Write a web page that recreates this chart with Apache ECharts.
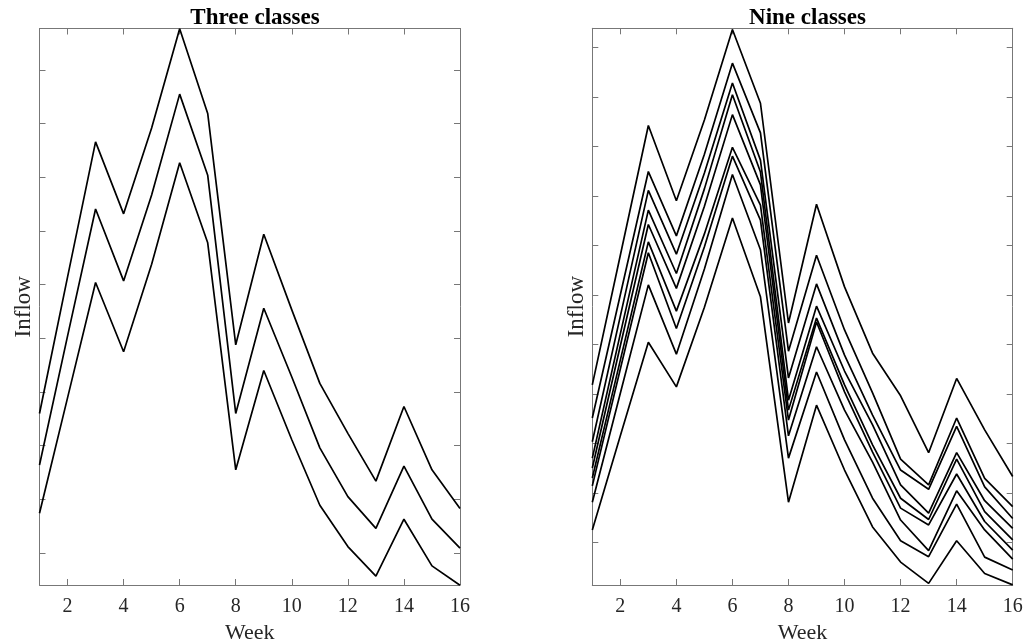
<!DOCTYPE html>
<html>
<head>
<meta charset="utf-8">
<script src="https://cdn.jsdelivr.net/npm/echarts@6/dist/echarts.min.js"></script>
<style>
html,body{margin:0;padding:0;background:#fff;}
#chart{width:1025px;height:644px;}
</style>
</head>
<body>
<div id="chart"></div>
<script>
// Weeks (x) and tick positions
const weeks = [1,2,3,4,5,6,7,8,9,10,11,12,13,14,15,16];
const xTickValues = [2,4,6,8,10,12,14,16];
const leftYTicks = [1,2,3,4,5,6,7,8,9,10];
const rightYTicks = [1,2,3,4,5,6,7,8,9,10,11];

// Three classes (inflow, in y-tick units; axis has no numeric labels)
const threeHigh = [3.60,6.14,8.66,7.32,8.92,10.77,9.19,4.88,6.94,5.53,4.16,3.23,2.34,3.73,2.55,1.83];
const threeMid  = [2.64,5.04,7.41,6.07,7.67,9.55,8.04,3.60,5.56,4.28,2.96,2.05,1.46,2.62,1.63,1.09];
const threeLow  = [1.74,3.89,6.04,4.75,6.38,8.27,6.78,2.55,4.40,3.11,1.89,1.12,0.57,1.63,0.76,0.40];

// Nine classes
const nine1 = [4.18,6.80,9.42,7.90,9.53,11.36,9.87,5.43,7.83,6.16,4.82,3.96,2.81,4.31,3.27,2.33];
const nine2 = [3.51,6.00,8.49,7.19,8.84,10.68,9.27,4.86,6.80,5.29,4.02,2.68,2.16,3.51,2.29,1.72];
const nine3 = [3.03,5.57,8.11,6.82,8.46,10.28,8.72,4.32,6.22,4.78,3.57,2.46,2.07,3.34,2.12,1.48];
const nine4 = [2.70,5.21,7.71,6.43,8.14,10.04,8.48,3.87,5.77,4.46,3.37,2.16,1.59,2.81,1.84,1.28];
const nine5 = [2.50,4.97,7.42,6.13,7.79,9.64,8.22,3.67,5.53,4.18,2.97,1.89,1.46,2.68,1.62,1.05];
const nine6 = [2.30,4.68,7.07,5.67,7.23,8.98,7.81,3.47,5.45,4.04,2.82,1.69,1.35,2.38,1.42,0.84];
const nine7 = [2.14,4.50,6.85,5.32,6.97,8.80,7.51,3.15,4.95,3.67,2.62,1.45,0.83,2.04,1.25,0.66];
const nine8 = [1.81,4.01,6.20,4.80,6.52,8.43,6.91,2.70,4.44,3.07,1.89,1.03,0.71,1.77,0.70,0.44];
const nine9 = [1.25,3.15,5.04,4.14,5.75,7.55,5.96,1.81,3.77,2.46,1.31,0.60,0.17,1.03,0.37,0.14];

const threeSeries = [threeHigh, threeMid, threeLow];
const nineSeries = [nine1,nine2,nine3,nine4,nine5,nine6,nine7,nine8,nine9];

const FONT = "'Liberation Serif','Times New Roman',serif";
const AXIS_COLOR = '#777777';
const LABEL_COLOR = '#262626';

function pairs(vals){ return weeks.map((w,i)=>[w, vals[i]]); }

function xAxes(gridIndex){
  const base = {
    type:'value', gridIndex, min:1, max:16,
    axisLine:{show:true, onZero:false, lineStyle:{color:AXIS_COLOR, width:1}},
    axisTick:{show:true, inside:true, length:6, customValues:xTickValues, lineStyle:{color:AXIS_COLOR}},
    splitLine:{show:false}
  };
  return [
    Object.assign({}, base, {
      position:'bottom',
      axisLabel:{show:true, customValues:xTickValues, margin:12, fontFamily:FONT, fontSize:20, color:LABEL_COLOR},
      name:'Week', nameLocation:'middle', nameGap:37,
      nameTextStyle:{fontFamily:FONT, fontSize:22, color:LABEL_COLOR}
    }),
    Object.assign({}, base, {position:'top', axisLabel:{show:false}})
  ];
}

function yAxes(gridIndex, min, max, ticks){
  const base = {
    type:'value', gridIndex, min, max,
    axisLine:{show:true, onZero:false, lineStyle:{color:AXIS_COLOR, width:1}},
    axisTick:{show:true, inside:true, length:6, customValues:ticks, lineStyle:{color:AXIS_COLOR}},
    axisLabel:{show:false},
    splitLine:{show:false}
  };
  return [
    Object.assign({}, base, {
      position:'left',
      name:'Inflow', nameLocation:'middle', nameGap:4,
      nameTextStyle:{fontFamily:FONT, fontSize:23, color:LABEL_COLOR}
    }),
    Object.assign({}, base, {position:'right'})
  ];
}

const series = [];
threeSeries.forEach(s => series.push({
  type:'line', xAxisIndex:0, yAxisIndex:0, data:pairs(s), showSymbol:false,
  lineStyle:{color:'#000', width:1.7}, silent:true
}));
nineSeries.forEach(s => series.push({
  type:'line', xAxisIndex:2, yAxisIndex:2, data:pairs(s), showSymbol:false,
  lineStyle:{color:'#000', width:1.7}, silent:true
}));

const chart = echarts.init(document.getElementById('chart'), null, {renderer:'canvas'});
chart.setOption({
  animation:false,
  backgroundColor:'#fff',
  title:[
    {text:'Three classes', left:250, top:2, textAlign:'center',
     textStyle:{fontFamily:FONT, fontSize:23, fontWeight:'bold', color:'#000'}},
    {text:'Nine classes', left:802.5, top:2, textAlign:'center',
     textStyle:{fontFamily:FONT, fontSize:23, fontWeight:'bold', color:'#000'}}
  ],
  grid:[
    {left:39.5, top:28.5, width:420.5, height:556.5, containLabel:false, outerBoundsMode:'none'},
    {left:592.3, top:28.3, width:420.4, height:556.7, containLabel:false, outerBoundsMode:'none'}
  ],
  xAxis:[].concat(xAxes(0), xAxes(1)),
  yAxis:[].concat(yAxes(0, 0.404, 10.773, leftYTicks), yAxes(1, 0.137, 11.384, rightYTicks)),
  series
});
</script>
</body>
</html>
